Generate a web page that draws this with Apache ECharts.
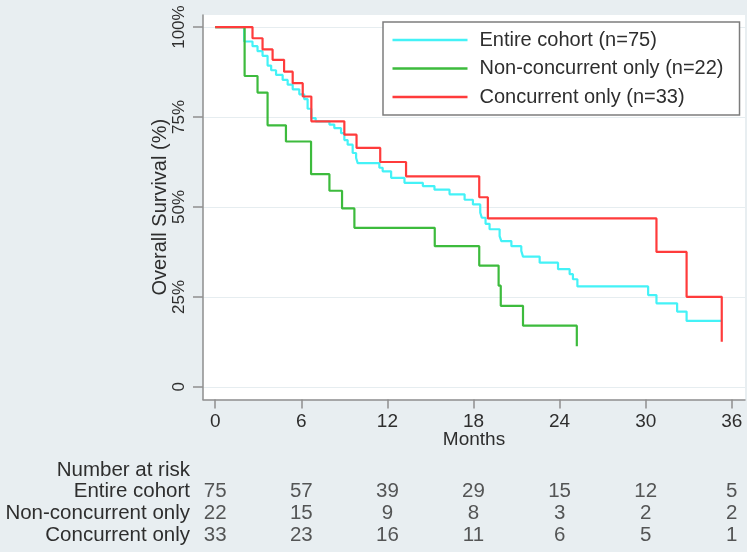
<!DOCTYPE html>
<html><head><meta charset="utf-8">
<script src="https://cdn.jsdelivr.net/npm/echarts@6/dist/echarts.min.js"></script>
<style>html,body{margin:0;padding:0;background:#e8eef1}#c{width:747px;height:552px}</style>
</head><body><div id="c"></div>
<script>
// ---- data ----
const xTicks = [0, 6, 12, 18, 24, 30, 36];
const yTicks = [0, 25, 50, 75, 100];
const seriesNames = ['Entire cohort (n=75)', 'Non-concurrent only (n=22)', 'Concurrent only (n=33)'];

const entireT = [0, 2.02, 2.6, 2.95, 3.3, 3.65, 3.9, 4.24, 4.7, 5.05, 5.4, 5.86, 6.2, 6.44, 6.7, 7.0, 7.96, 8.3, 8.77, 9.0, 9.23, 9.58, 9.82, 9.93, 11.44, 11.67, 12.26, 13.19, 14.47, 15.28, 16.33, 17.38, 17.96, 18.47, 18.58, 18.84, 19.12, 19.82, 19.94, 20.64, 21.33, 21.45, 22.61, 23.89, 24.70, 24.93, 25.24, 30.17, 30.75, 32.19, 32.85, 35.3];
const entireS = [100, 96.0, 94.7, 93.3, 92.0, 89.3, 88.0, 86.7, 85.3, 84.0, 82.7, 81.3, 80.0, 77.3, 74.7, 73.8, 72.9, 71.9, 70.5, 68.6, 67.3, 65.0, 63.6, 62.2, 60.9, 59.9, 58.1, 56.7, 55.8, 54.8, 53.5, 52.0, 50.7, 48.4, 47.0, 45.3, 43.8, 41.9, 40.5, 39.1, 37.8, 36.2, 34.5, 32.7, 31.3, 29.9, 27.9, 25.5, 23.2, 20.9, 18.3, 18.3];

const nonConcT = [0, 2.05, 2.95, 3.65, 4.93, 6.68, 7.96, 8.84, 9.7, 15.3, 18.4, 19.75, 19.9, 21.45, 25.2];
const nonConcS = [100, 86.4, 81.8, 72.7, 68.2, 59.1, 54.5, 49.6, 44.2, 39.1, 33.7, 28.1, 22.5, 17.0, 11.3];

const concT = [0, 2.6, 3.3, 4.0, 4.8, 5.4, 6.1, 6.7, 9.0, 9.85, 11.5, 13.3, 18.4, 19.0, 30.75, 32.85, 35.3];
const concS = [100, 96.9, 93.8, 90.9, 87.6, 84.4, 80.7, 73.8, 70.1, 66.4, 62.5, 58.5, 52.7, 46.8, 37.5, 25.0, 12.5];

const riskRows = ['Number at risk', 'Entire cohort', 'Non-concurrent only', 'Concurrent only'];
const riskTimes = [0, 6, 12, 18, 24, 30, 36];
const riskEntire = [75, 57, 39, 29, 15, 12, 5];
const riskNonConc = [22, 15, 9, 8, 3, 2, 2];
const riskConc = [33, 23, 16, 11, 6, 5, 1];

// ---- chart ----
const FONT = '"Liberation Sans", Arial, sans-serif';
const TXT = '#2e2e2e';
const AX = '#8e8e8e';
const colors = ['#44f2f7', '#3dbb3d', '#ff3b3b'];

function pairs(t, s) { return t.map((v, i) => [v, s[i]]); }
function kmSeries(name, t, s, color) {
  return {
    name: name, type: 'line', step: 'end', data: pairs(t, s),
    xAxisIndex: 0, yAxisIndex: 0,
    showSymbol: false, symbol: 'none', silent: true,
    lineStyle: { color: color, width: 2.2 }, itemStyle: { color: color }
  };
}
function riskSeries(row, vals) {
  return {
    name: 'risk-' + row, type: 'scatter', xAxisIndex: 1, yAxisIndex: 1, silent: true,
    symbolSize: 1, itemStyle: { color: 'rgba(0,0,0,0)' },
    data: riskTimes.map((t, i) => [t, row, vals[i]]),
    label: { show: true, position: 'inside', formatter: p => String(p.value[2]), fontSize: 20.5, color: TXT, fontFamily: FONT }
  };
}

const chart = echarts.init(document.getElementById('c'), null, { renderer: 'canvas' });
chart.setOption({
  animation: false,
  backgroundColor: '#e8eef1',
  textStyle: { fontFamily: FONT },
  grid: [
    { left: 203, right: 2, top: 15, bottom: 152.5, show: true, backgroundColor: '#ffffff', borderWidth: 0 },
    { left: 203, right: 2, top: 459, height: 87 }
  ],
  xAxis: [
    {
      type: 'value', gridIndex: 0, min: -0.85, max: 36.92,
      axisLine: { show: true, onZero: false, lineStyle: { color: AX, width: 1.5 } },
      axisTick: { show: true, length: 9, customValues: xTicks, lineStyle: { color: AX, width: 1.5 } },
      axisLabel: { customValues: xTicks, margin: 13, fontSize: 19, color: TXT },
      splitLine: { show: false },
      name: 'Months', nameLocation: 'middle', nameGap: 31, nameMoveOverlap: false,
      nameTextStyle: { fontSize: 19, color: TXT }
    },
    { type: 'value', gridIndex: 1, min: -0.85, max: 36.92, show: false }
  ],
  yAxis: [
    {
      type: 'value', gridIndex: 0, min: -3.53, max: 103.36,
      axisLine: { show: true, onZero: false, lineStyle: { color: AX, width: 1.5 } },
      axisTick: { show: true, length: 10, customValues: yTicks, lineStyle: { color: AX, width: 1.5 } },
      axisLabel: { customValues: yTicks, rotate: 90, margin: 15.5, fontSize: 17, color: TXT,
                   formatter: v => (v === 0 ? '0' : v + '%') },
      splitLine: { show: true, lineStyle: { color: '#e6edf0', width: 1 } },
      name: 'Overall Survival (%)', nameLocation: 'middle', nameGap: 33, nameMoveOverlap: false,
      nameTextStyle: { fontSize: 20, color: TXT }
    },
    {
      type: 'category', gridIndex: 1, inverse: true, data: riskRows,
      axisLine: { show: false }, axisTick: { show: false }, splitLine: { show: false },
      axisLabel: { interval: 0, margin: 13, fontSize: 20.5, color: TXT }
    }
  ],
  legend: {
    data: seriesNames, orient: 'vertical', left: 383, top: 22,
    icon: 'rect', itemWidth: 75, itemHeight: 2.5, itemGap: 8.5,
    padding: [8, 16, 8, 9.5], backgroundColor: '#ffffff', borderColor: '#7d7d7d', borderWidth: 1.5, borderRadius: 0,
    selectedMode: false,
    textStyle: { fontSize: 20, color: TXT, lineHeight: 20, padding: [0, 0, 0, 7] }
  },
  series: [
    kmSeries(seriesNames[0], entireT, entireS, colors[0]),
    kmSeries(seriesNames[1], nonConcT, nonConcS, colors[1]),
    kmSeries(seriesNames[2], concT, concS, colors[2]),
    riskSeries('Entire cohort', riskEntire),
    riskSeries('Non-concurrent only', riskNonConc),
    riskSeries('Concurrent only', riskConc)
  ]
});
</script></body></html>
